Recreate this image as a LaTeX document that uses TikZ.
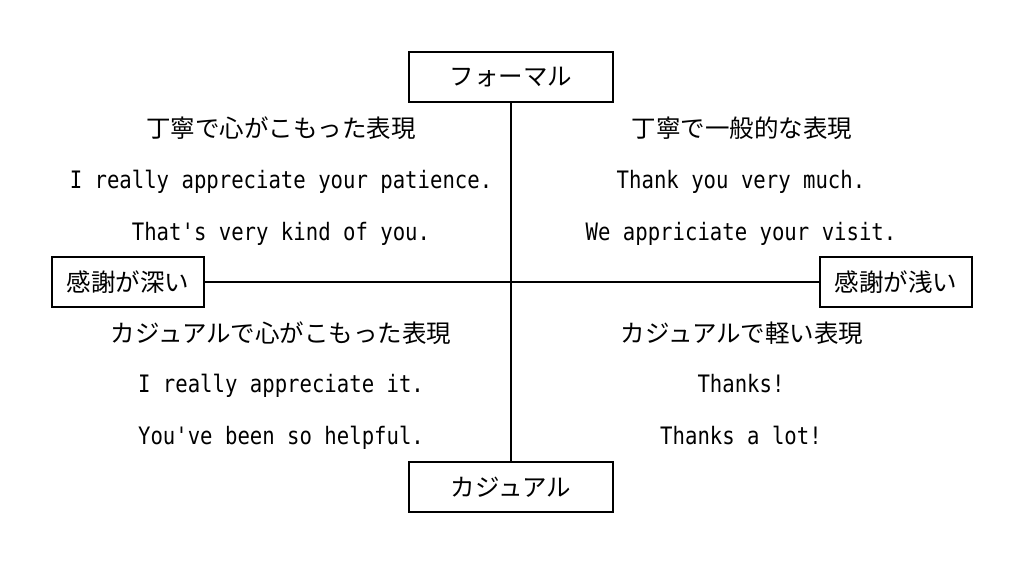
\documentclass[tikz,border=0pt]{standalone}
\usepackage{fontspec}
\newfontfamily\jp{Noto Sans CJK JP}
\newfontfamily\en[FakeStretch=0.86]{DejaVu Sans Mono}
\begin{document}
\begin{tikzpicture}[x=1pt,y=-1pt,
  lbl/.style={draw=black,line width=1.6pt,fill=white,inner sep=0pt,font=\jp\fontsize{24.5}{28}\selectfont},
  head/.style={anchor=base,inner sep=0pt,font=\jp\fontsize{24.5}{28}\selectfont},
  eng/.style={anchor=base,inner sep=0pt,font=\en\fontsize{24}{28}\selectfont},
  axis/.style={line width=1.6pt}]
\useasboundingbox (0,0) rectangle (1024,564);
% axes
\node[lbl,minimum width=204pt,minimum height=50pt] (top) at (511,77) {フォーマル};
\node[lbl,minimum width=204pt,minimum height=50pt] (bot) at (511,487) {カジュアル};
\node[lbl,minimum width=152pt,minimum height=50pt] (left) at (128,282) {感謝が深い};
\node[lbl,minimum width=152pt,minimum height=50pt] (right) at (896,282) {感謝が浅い};
\draw[axis] (top.south) -- (bot.north);
\draw[axis] (left.east) -- (right.west);
% upper left
\node[head] (ulh) at (281,138) {丁寧で心がこもった表現};
\node[eng] (ul1) at (281,189) {I really appreciate your patience.};
\node[eng] (ul2) at (281,240) {That's very kind of you.};
% upper right
\node[head] (urh) at (742,138) {丁寧で一般的な表現};
\node[eng] (ur1) at (741,189) {Thank you very much.};
\node[eng] (ur2) at (741,240) {We appriciate your visit.};
% lower left
\node[head] (llh) at (281,342) {カジュアルで心がこもった表現};
\node[eng] (ll1) at (281,392) {I really appreciate it.};
\node[eng] (ll2) at (281,444) {You've been so helpful.};
% lower right
\node[head] (lrh) at (742,342) {カジュアルで軽い表現};
\node[eng] (lr1) at (741,392) {Thanks!};
\node[eng] (lr2) at (741,444) {Thanks a lot!};
\end{tikzpicture}
\end{document}
